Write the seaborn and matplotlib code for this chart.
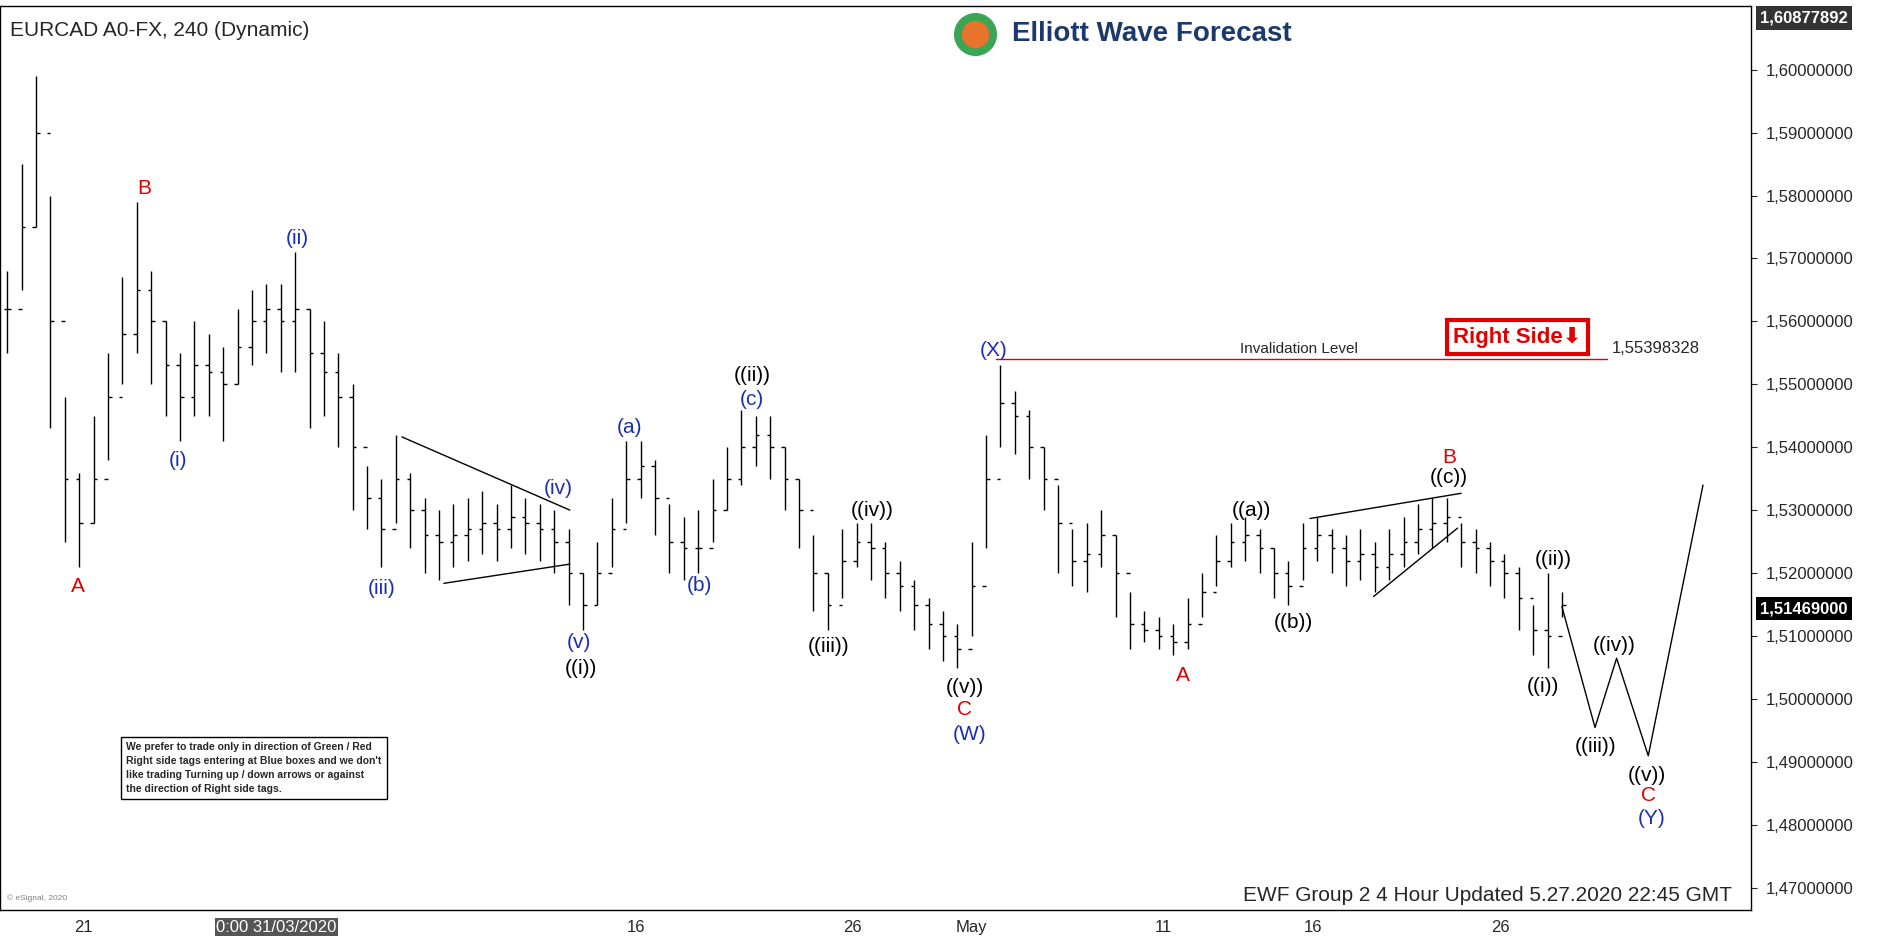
import numpy as np
import pandas as pd
import matplotlib
matplotlib.use("Agg")
import matplotlib.pyplot as plt
import seaborn as sns

# 4h bars (high / low / close)
highs = [1.568, 1.585, 1.599, 1.580, 1.548, 1.536, 1.545, 1.555, 1.567, 1.579,
         1.568, 1.560, 1.555, 1.560, 1.558, 1.556, 1.562, 1.565, 1.566, 1.566,
         1.571, 1.562, 1.560, 1.555, 1.550, 1.537, 1.535, 1.542, 1.536, 1.532,
         1.530, 1.531, 1.532, 1.533, 1.531, 1.534, 1.532, 1.531, 1.530, 1.527,
         1.520, 1.525, 1.532, 1.541, 1.541, 1.538, 1.531, 1.529, 1.530, 1.535,
         1.540, 1.546, 1.545, 1.545, 1.540, 1.535, 1.526, 1.520, 1.527, 1.528,
         1.528, 1.525, 1.522, 1.519, 1.516, 1.514, 1.512, 1.525, 1.542, 1.553,
         1.549, 1.546, 1.540, 1.534, 1.527, 1.528, 1.530, 1.526, 1.517, 1.514,
         1.513, 1.512, 1.516, 1.520, 1.526, 1.528, 1.529, 1.527, 1.524, 1.522,
         1.528, 1.529, 1.527, 1.526, 1.527, 1.525, 1.527, 1.529, 1.531, 1.532,
         1.532, 1.528, 1.527, 1.525, 1.523, 1.521, 1.515, 1.520, 1.517]
lows = [1.555, 1.565, 1.575, 1.543, 1.525, 1.521, 1.528, 1.538, 1.550, 1.555,
        1.550, 1.545, 1.541, 1.545, 1.545, 1.541, 1.550, 1.553, 1.555, 1.552,
        1.552, 1.543, 1.545, 1.540, 1.530, 1.527, 1.521, 1.528, 1.524, 1.520,
        1.519, 1.521, 1.522, 1.523, 1.522, 1.524, 1.523, 1.522, 1.520, 1.515,
        1.511, 1.515, 1.521, 1.528, 1.532, 1.526, 1.520, 1.519, 1.520, 1.525,
        1.530, 1.534, 1.537, 1.535, 1.530, 1.524, 1.514, 1.511, 1.516, 1.521,
        1.519, 1.516, 1.514, 1.511, 1.508, 1.506, 1.505, 1.510, 1.524, 1.540,
        1.539, 1.535, 1.530, 1.520, 1.518, 1.517, 1.521, 1.513, 1.508, 1.509,
        1.508, 1.507, 1.508, 1.513, 1.518, 1.521, 1.522, 1.520, 1.516, 1.515,
        1.519, 1.522, 1.520, 1.518, 1.519, 1.517, 1.519, 1.521, 1.523, 1.524,
        1.525, 1.521, 1.520, 1.518, 1.516, 1.511, 1.507, 1.505, 1.513]
closes = [1.562, 1.575, 1.590, 1.560, 1.535, 1.528, 1.535, 1.548, 1.558, 1.565,
          1.560, 1.553, 1.548, 1.553, 1.552, 1.550, 1.556, 1.560, 1.562, 1.560,
          1.562, 1.555, 1.552, 1.548, 1.540, 1.532, 1.527, 1.535, 1.530, 1.526,
          1.525, 1.526, 1.527, 1.528, 1.527, 1.529, 1.528, 1.527, 1.525, 1.520,
          1.515, 1.520, 1.527, 1.535, 1.537, 1.532, 1.525, 1.524, 1.524, 1.530,
          1.535, 1.540, 1.542, 1.540, 1.535, 1.530, 1.520, 1.515, 1.522, 1.525,
          1.524, 1.520, 1.518, 1.515, 1.512, 1.510, 1.508, 1.518, 1.535, 1.547,
          1.545, 1.540, 1.535, 1.528, 1.522, 1.523, 1.526, 1.520, 1.512, 1.511,
          1.510, 1.509, 1.512, 1.517, 1.522, 1.525, 1.526, 1.524, 1.520, 1.518,
          1.524, 1.526, 1.524, 1.522, 1.523, 1.521, 1.523, 1.525, 1.527, 1.528,
          1.529, 1.525, 1.524, 1.522, 1.520, 1.516, 1.511, 1.510, 1.515]

# projected path
proj_idx = [108, 110.3, 111.8, 114.0, 117.8]
proj_price = [1.5147, 1.4955, 1.5065, 1.4910, 1.5340]

date_ticks = [5.3, 18.7, 43.7, 58.7, 67.0, 80.3, 90.7, 103.7]
date_labels = ["21", "0:00 31/03/2020", "16", "26", "May", "11", "16", "26"]
price_ticks = [1.47, 1.48, 1.49, 1.50, 1.51, 1.52, 1.53, 1.54, 1.55, 1.56, 1.57, 1.58, 1.59, 1.60]

BLUE = "#1a2fb5"
RED = "#e00000"
wave_labels = [
    ("A", 65, 489, RED), ("B", 120, 157, RED), ("(i)", 148, 384, BLUE),
    ("(ii)", 248, 199, BLUE), ("(iii)", 318, 490, BLUE), ("(iv)", 465, 407, BLUE),
    ("(v)", 483, 535, BLUE), ("((i))", 484, 557, "black"), ("(a)", 525, 356, BLUE),
    ("(b)", 583, 488, BLUE), ("(c)", 627, 333, BLUE), ("((ii))", 627, 313, "black"),
    ("((iii))", 691, 539, "black"), ("((iv))", 727, 425, "black"), ("((v))", 804, 573, "black"),
    ("C", 804, 591, RED), ("(W)", 808, 612, BLUE), ("(X)", 828, 292, BLUE),
    ("A", 986, 563, RED), ("((a))", 1043, 425, "black"), ("((b))", 1078, 519, "black"),
    ("B", 1208, 381, RED), ("((c))", 1208, 398, "black"), ("((ii))", 1295, 466, "black"),
    ("((i))", 1286, 572, "black"), ("((iv))", 1346, 538, "black"), ("((iii))", 1330, 622, "black"),
    ("((v))", 1373, 646, "black"), ("C", 1374, 663, RED), ("(Y)", 1377, 682, BLUE),
]

W, H = 1568.0, 784.0


def px2i(x):
    return (x - 6) / 12.0


def py2p(y):
    return 1.60 - (y - 58) / 5245.0


sns.set_style("white")
plt.rcParams['font.family'] = ['Liberation Sans', 'DejaVu Sans']

fig = plt.figure(figsize=(18.81, 9.41), dpi=100)
ax = fig.add_axes([0, 1 - 758 / H, 1460 / W, 753 / H])
ax.set_xlim(px2i(0), px2i(1460))
ax.set_ylim(py2p(758), py2p(5))

idx = np.arange(len(highs))
opens = [closes[0]] + closes[:-1]
ax.vlines(idx, lows, highs, color="black", lw=1)
ax.hlines(opens, idx - 0.25, idx, color="black", lw=1)
ax.hlines(closes, idx, idx + 0.25, color="black", lw=1)

proj = pd.DataFrame({"i": proj_idx, "p": proj_price})
sns.lineplot(data=proj, x="i", y="p", ax=ax, color="black", lw=1, sort=False)

for (x0, y0, x1, y1) in [(335, 364, 475, 425), (370, 486, 475, 470),
                         (1092, 432, 1218, 411), (1145, 497, 1215, 440)]:
    ax.plot([px2i(x0), px2i(x1)], [py2p(y0), py2p(y1)], color="black", lw=1)

inv = 1.55398328
ax.plot([px2i(830), px2i(1340)], [inv, inv], color=RED, lw=1)
ax.text(px2i(1083), inv + 0.0005, "Invalidation Level", fontsize=11, ha="center", va="bottom")
ax.text(px2i(1380), inv + 0.0005, "1,55398328", fontsize=12, ha="center", va="bottom")
ax.text(px2i(1265), py2p(281), "Right Side\u2b07", fontsize=16, fontweight="bold", color=RED,
        ha="center", va="center", family=['Liberation Sans', 'DejaVu Sans'],
        bbox=dict(boxstyle="square,pad=0.3", fc="white", ec=RED, lw=3))

for t, x, y, c in wave_labels:
    ax.text(px2i(x), py2p(y), t, color=c, fontsize=15, ha="center", va="center")

ax.text(px2i(8), py2p(25), "EURCAD A0-FX, 240 (Dynamic)", fontsize=15, ha="left", va="center")
ax.text(px2i(960), py2p(28), "Elliott Wave Forecast", fontsize=20, fontweight="bold",
        color="#1b3a6b", ha="center", va="center")
ax.scatter([px2i(813)], [py2p(28)], s=900, color="#3aa655", zorder=3)
ax.scatter([px2i(813)], [py2p(28)], s=350, color="#e8732a", zorder=4)
ax.text(px2i(1240), py2p(746), "EWF Group 2 4 Hour Updated 5.27.2020 22:45 GMT",
        fontsize=15, ha="center", va="center")
ax.text(px2i(105), py2p(640),
        "We prefer to trade only in direction of Green / Red\nRight side tags entering at Blue boxes and we don't\n"
        "like trading Turning up / down arrows or against\nthe direction of Right side tags.",
        fontsize=7.5, fontweight="bold", ha="left", va="center", linespacing=1.5,
        bbox=dict(boxstyle="square,pad=0.5", fc="white", ec="black", lw=1))
ax.text(px2i(6), py2p(750), "\u00a9 eSignal, 2020", fontsize=6, color="gray", ha="left")

ax.yaxis.tick_right()
ax.set_yticks(price_ticks)
ax.set_yticklabels([f"{p:.8f}".replace(".", ",") for p in price_ticks], fontsize=12)
ax.tick_params(axis="y", length=4, pad=6)
ax.set_xticks(date_ticks)
ax.set_xticklabels(date_labels, fontsize=12)
ax.get_xticklabels()[1].set_bbox(dict(fc="#555555", ec="none", pad=1))
ax.get_xticklabels()[1].set_color("white")
ax.tick_params(axis="x", length=3, pad=4)
for s in ax.spines.values():
    s.set_color("black")
    s.set_linewidth(1)

# current price tag and top price tag on axis
ax.text(1.005, py2p(507), "1,51469000", transform=ax.get_yaxis_transform(), fontsize=12,
        fontweight="bold", color="white", ha="left", va="center",
        bbox=dict(boxstyle="square,pad=0.25", fc="black", ec="none"))
ax.text(1.005, py2p(15), "1,60877892", transform=ax.get_yaxis_transform(), fontsize=12,
        fontweight="bold", color="white", ha="left", va="center",
        bbox=dict(boxstyle="square,pad=0.25", fc="#333333", ec="none"))
ax.set_xlabel("")
ax.set_ylabel("")

fig.savefig("out.png", dpi=100)
